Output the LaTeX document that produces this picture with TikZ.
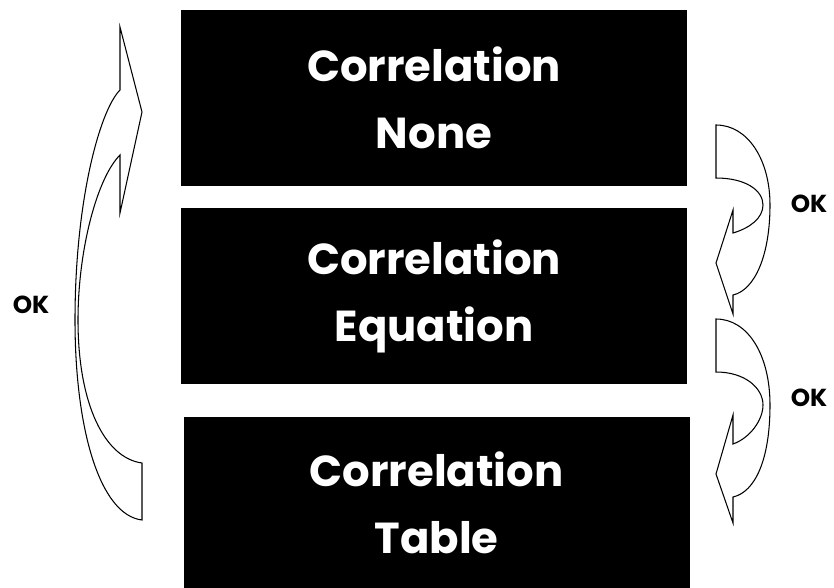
\documentclass[tikz,border=0pt]{standalone}
\usepackage{fontspec}
\setmainfont{Poppins}
\usetikzlibrary{positioning}

\begin{document}
\begin{tikzpicture}[
		x=0.03cm, y=-0.03cm,
		node distance=0.66cm,
		corr/.style={rectangle, fill=black, text=white, minimum width=15.18cm, minimum height=#1, inner sep=0pt, align=center, font=\fontsize{37}{57}\selectfont\bfseries},
		corr/.default=5.28cm,
		bendarrow/.style={draw=black, fill=white, line width=0.9pt, line join=miter},
		ok/.style={font=\fontsize{21}{24}\selectfont\bfseries}
		]
		\useasboundingbox (0,0) rectangle (834,588);
		
		%==================== Nodes ====================%
		\node[corr] (none) at (434,98) {Correlation\\None};
		\node[corr, below=0.66cm of none] (equation) {Correlation\\Equation};
		\node[corr=5.16cm, below=0.96cm of equation, xshift=0.08cm] (table) {Correlation\\Table};
		
		\node[ok] (okleft) at (31,305) {OK};
		\node[ok] (okone) at (809,204) {OK};
		\node[ok] (oktwo) at (809,398) {OK};
		
		%==================== Arrows ====================%
		% back to the top
		\path[bendarrow] (142,463) -- (142,520)
			.. controls (100,515) and (75,430) .. (75,320)
			.. controls (75,200) and (100,110) .. (120,90)
			-- (120,27) -- (142,112) -- (120,213) -- (120,155)
			.. controls (97,178) and (78,250) .. (78,320)
			.. controls (78,405) and (105,458) .. (142,463) -- cycle;
		
		% none -> equation
		\path[bendarrow] (716,125)
			.. controls (748,125) and (770,160) .. (770,205)
			.. controls (770,255) and (755,290) .. (733,295)
			-- (733,314) -- (716,263) -- (733,210) -- (733,233)
			.. controls (750,228) and (763,218) .. (763,205)
			.. controls (763,190) and (745,178) .. (716,178) -- cycle;
		
		% equation -> table
		\path[bendarrow] (716,319)
			.. controls (748,319) and (770,355) .. (770,405)
			.. controls (770,460) and (755,492) .. (733,497)
			-- (733,523) -- (716,474) -- (733,415) -- (733,444)
			.. controls (750,438) and (763,420) .. (763,405)
			.. controls (763,388) and (745,372) .. (716,372) -- cycle;
		
	\end{tikzpicture}
\end{document}
